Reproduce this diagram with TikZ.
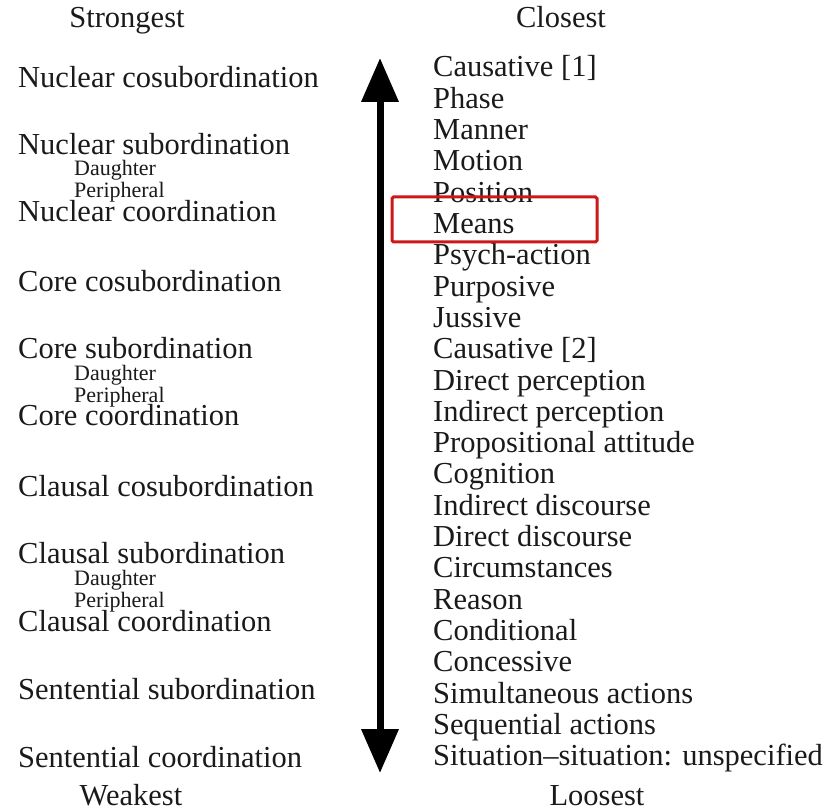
\documentclass[tikz,border=0pt]{standalone}
\usepackage{fontspec}
\IfFontExistsTF{LiberationSerif-Regular.ttf}
  {\setmainfont{LiberationSerif-Regular.ttf}}
  {\setmainfont{Liberation Serif}}
\usetikzlibrary{arrows.meta}
\definecolor{ink}{HTML}{1A1A1A}
\definecolor{boxred}{HTML}{CC1818}
\begin{document}
\begin{tikzpicture}[x=1pt,y=-1pt,
  item/.style={anchor=base west, inner sep=0pt, font=\fontsize{30.5}{31}\selectfont, text=ink},
  small/.style={anchor=base west, inner sep=0pt, font=\fontsize{22}{22}\selectfont, text=ink},
  head/.style={anchor=base, inner sep=0pt, font=\fontsize{30.5}{31}\selectfont, text=ink},
  scalearrow/.style={line width=7pt, draw=black, {Triangle[length=44pt,width=36pt]}-{Triangle[length=44pt,width=36pt]}},
  hilite/.style={draw=boxred, line width=3pt, rounded corners=1.5pt}]
\useasboundingbox[fill=white] (0,0) rectangle (830,810);
% headers
\node[head] (strongest) at (127,28) {Strongest};
\node[head] (weakest) at (131,805) {Weakest};
\node[head] (closest) at (561,28) {Closest};
\node[head] (loosest) at (597,805) {Loosest};
% left column
\node[item] (ncos) at (18,88) {Nuclear cosubordination};
\node[item] (nsub) at (18,155) {Nuclear subordination};
\node[small] (nd) at (74,176) {Daughter};
\node[small] (np) at (74,198) {Peripheral};
\node[item] (ncoo) at (18,222) {Nuclear coordination};
\node[item] (ccos) at (18,292) {Core cosubordination};
\node[item] (csub) at (18,358) {Core subordination};
\node[small] (cd) at (74,380) {Daughter};
\node[small] (cp) at (74,402) {Peripheral};
\node[item] (ccoo) at (18,425) {Core coordination};
\node[item] (kcos) at (18,496) {Clausal cosubordination};
\node[item] (ksub) at (18,563) {Clausal subordination};
\node[small] (kd) at (74,585) {Daughter};
\node[small] (kp) at (74,607) {Peripheral};
\node[item] (kcoo) at (18,631) {Clausal coordination};
\node[item] (ssub) at (18,699) {Sentential subordination};
\node[item] (scoo) at (18,767) {Sentential coordination};
% right column
\foreach \t [count=\i] in {Causative [1], Phase, Manner, Motion, Position, Means,
  Psych-action, Purposive, Jussive, Causative [2], Direct perception,
  Indirect perception, Propositional attitude, Cognition, Indirect discourse,
  Direct discourse, Circumstances, Reason, Conditional, Concessive,
  Simultaneous actions, Sequential actions, Situation–situation: unspecified}
  \node[item] (r\i) at (433,{77+31.3*(\i-1)}) {\t};
% highlight box around "Means"
\draw[hilite] (392,197) rectangle (597,242);
% double arrow
\coordinate (atop) at (380,58);
\coordinate (abot) at (380,773);
\draw[scalearrow] (atop) -- (abot);
\end{tikzpicture}
\end{document}
